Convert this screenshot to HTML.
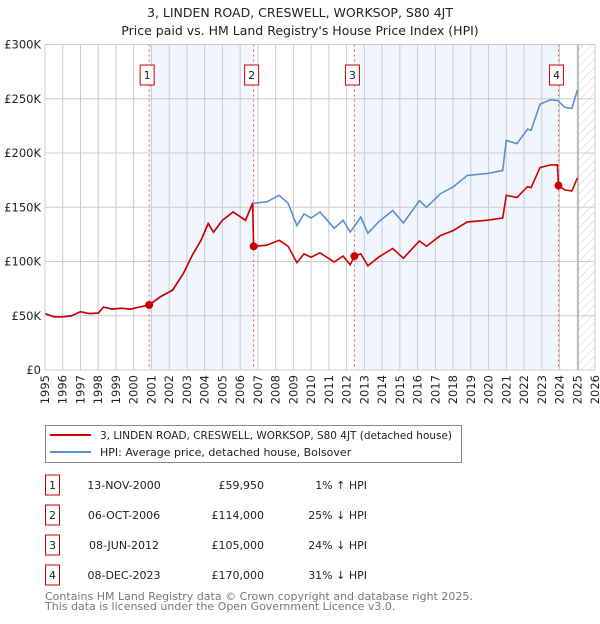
<!DOCTYPE html>
<html><head><meta charset="utf-8"><style>
body{margin:0;background:#fff;font-family:"DejaVu Sans","Liberation Sans",sans-serif;}
svg text{font-family:"DejaVu Sans","Liberation Sans",sans-serif;}
</style></head><body>
<svg id="chart" width="600" height="620" xmlns="http://www.w3.org/2000/svg">
<defs><pattern id="hatch" width="6" height="6" patternUnits="userSpaceOnUse" patternTransform="rotate(45)"><line x1="0" y1="0" x2="0" y2="6" stroke="#ccc" stroke-width="1"/></pattern></defs>
<text x="300" y="17" text-anchor="middle" font-size="12.5" fill="#222">3, LINDEN ROAD, CRESWELL, WORKSOP, S80 4JT</text>
<text x="300" y="35" text-anchor="middle" font-size="12.5" fill="#222">Price paid vs. HM Land Registry's House Price Index (HPI)</text>
<g id="plot"></g>
<g>
<rect x="45.5" y="425.5" width="416" height="37" fill="#fff" stroke="#888"/>
<line x1="50" y1="435" x2="91" y2="435" stroke="#cc0000" stroke-width="2"/>
<text x="100" y="439" font-size="11" fill="#222" textLength="352" lengthAdjust="spacingAndGlyphs">3, LINDEN ROAD, CRESWELL, WORKSOP, S80 4JT (detached house)</text>
<line x1="50" y1="452" x2="91" y2="452" stroke="#5b8fd0" stroke-width="2"/>
<text x="100" y="456" font-size="11" fill="#222">HPI: Average price, detached house, Bolsover</text>
</g>
<g id="table" font-size="11" fill="#222"></g>
<text x="45" y="600" font-size="11" fill="#777">Contains HM Land Registry data © Crown copyright and database right 2025.</text>
<text x="45" y="610" font-size="11" fill="#777">This data is licensed under the Open Government Licence v3.0.</text>
</svg>
<script>
const hpiDates=[1995.0,1995.5,1996.0,1996.5,1997.0,1997.5,1998.0,1998.3,1998.8,1999.3,1999.8,2000.3,2000.87,2001.5,2002.2,2002.8,2003.3,2003.8,2004.2,2004.5,2005.0,2005.6,2006.3,2006.7,2007.5,2008.2,2008.7,2009.2,2009.6,2010.0,2010.5,2011.3,2011.8,2012.2,2012.8,2013.2,2013.8,2014.6,2015.2,2016.1,2016.5,2017.3,2018.0,2018.8,2019.9,2020.8,2021.0,2021.6,2022.2,2022.4,2022.9,2023.5,2023.9,2024.3,2024.7,2025.0];
const hpiValues=[52,49,49,50,53.7,52,52.4,58,56,57,56,58,59.9,67.5,73.6,89,105.8,119.6,135,127,138,145.6,138,153.6,155,161,153.6,133,144,140,145.6,130.6,138,127,141,126,136.4,147,135.5,156,150,162.6,168.7,179.4,181,184,211.6,208.6,222,220.8,245,249,248.4,242,241,258];
const priceDates=[1995.0,1995.5,1996.0,1996.5,1997.0,1997.5,1998.0,1998.3,1998.8,1999.3,1999.8,2000.3,2000.87,2001.5,2002.2,2002.8,2003.3,2003.8,2004.2,2004.5,2005.0,2005.6,2006.3,2006.7,2006.76,2007.5,2008.2,2008.7,2009.2,2009.6,2010.0,2010.5,2011.3,2011.8,2012.2,2012.44,2012.8,2013.2,2013.8,2014.6,2015.2,2016.1,2016.5,2017.3,2018.0,2018.8,2019.9,2020.8,2021.0,2021.6,2022.2,2022.4,2022.9,2023.5,2023.88,2023.94,2024.3,2024.7,2025.0];
const priceValues=[52,49,49,50,53.7,52,52.4,58,56,57,56,58,59.95,67.5,73.6,89,105.8,119.6,135,127,138,145.6,138,153.6,114,115,119.5,114,99,107,104,108,99.5,105,97,105,107,96,104,112,103,119,114,124,128.5,136.5,138,140,161,159,169,168,186.5,189,189,170,166,165,177];
const saleDates=[2000.87,2006.76,2012.44,2023.94];
const salePrices=[59.95,114,105,170];
const saleLabels=["1","2","3","4"];
const saleDateText=["13-NOV-2000","06-OCT-2006","08-JUN-2012","08-DEC-2023"];
const salePriceText=["£59,950","£114,000","£105,000","£170,000"];
const saleHpiText=["1% ↑ HPI","25% ↓ HPI","24% ↓ HPI","31% ↓ HPI"];
const yTicks=[0,50,100,150,200,250,300];
const yTickLabels=["£0","£50K","£100K","£150K","£200K","£250K","£300K"];
const xTicks=[1995,1996,1997,1998,1999,2000,2001,2002,2003,2004,2005,2006,2007,2008,2009,2010,2011,2012,2013,2014,2015,2016,2017,2018,2019,2020,2021,2022,2023,2024,2025,2026];
const forecastStart=2025.05;

const X0=45,X1=595,Y0=370,Y1=44.5;
const x=d=>X0+(d-1995)/31*(X1-X0);
const y=v=>Y0-v/300*(Y0-Y1);
const NS="http://www.w3.org/2000/svg";
const plot=document.getElementById('plot');
function mk(tag,attrs,parent){const e=document.createElementNS(NS,tag);for(const k in attrs)e.setAttribute(k,attrs[k]);(parent||plot).appendChild(e);return e;}

const bg=mk('rect',{x:X0,y:Y1,width:X1-X0,height:Y0-Y1,fill:'#fff'});


for(let i=0;i<saleDates.length;i+=2){
  const r=mk('rect',{x:x(saleDates[i]),y:Y1,width:x(saleDates[i+1])-x(saleDates[i]),height:Y0-Y1,fill:'#eef3fc',opacity:0.8});
  
  
}
const fc=mk('rect',{x:x(forecastStart),y:Y1,width:X1-x(forecastStart),height:Y0-Y1,fill:'url(#hatch)'});


xTicks.forEach(t=>{
  const l=mk('line',{x1:x(t),x2:x(t),y1:Y1,y2:Y0,stroke:'#ccc','stroke-width':1});
  
  
  const tx=mk('text',{x:0,y:0,'text-anchor':'end','font-size':'11.5',fill:'#222',transform:'translate('+(x(t)+4).toFixed(1)+','+(Y0+5)+') rotate(-90)'});
  tx.textContent=t;
  
  
});
yTicks.forEach((t,i)=>{
  const l=mk('line',{x1:X0,x2:X1,y1:y(t),y2:y(t),stroke:'#ccc','stroke-width':1});
  
  
  const tx=mk('text',{x:X0-4,y:y(t)+4,'text-anchor':'end','font-size':'11.5',fill:'#222'});
  tx.textContent=yTickLabels[i];
  
  
});
const ed=mk('line',{x1:x(forecastStart),x2:x(forecastStart),y1:Y1,y2:Y0,stroke:'#999','stroke-width':1});


saleDates.forEach((d,i)=>{
  const l=mk('line',{x1:x(d),x2:x(d),y1:Y1,y2:Y0,stroke:'#e06060','stroke-width':1,'stroke-dasharray':'2,3'});
  
  
  const bx=x(d)-9;
  const b=mk('rect',{x:bx,y:65,width:14,height:20,fill:'#fff',stroke:'#cc0000','stroke-width':1});
  
  
  const t=mk('text',{x:bx+7,y:79,'text-anchor':'middle','font-size':'11',fill:'#222'});
  t.textContent=saleLabels[i];
  
  
});
const hp=mk('path',{d:hpiDates.map((d,i)=>(i?'L':'M')+x(d).toFixed(1)+','+y(hpiValues[i]).toFixed(1)).join(''),fill:'none',stroke:'#5b8fd0','stroke-width':1.6});


const pp=mk('path',{d:priceDates.map((d,i)=>(i?'L':'M')+x(d).toFixed(1)+','+y(priceValues[i]).toFixed(1)).join(''),fill:'none',stroke:'#cc0000','stroke-width':1.6});


saleDates.forEach((d,i)=>{
  const c=mk('circle',{cx:x(d),cy:y(salePrices[i]),r:4,fill:'#cc0000'});
  
  
});
const fr=mk('rect',{x:X0,y:Y1,width:X1-X0,height:Y0-Y1,fill:'none',stroke:'#ccc'});



const tbl=document.getElementById('table');


saleDates.forEach((d,i)=>{
  const cy=483+i*30;
  const b=mk('rect',{x:45.5,y:cy-8,width:14,height:20,fill:'#fff',stroke:'#cc0000'},tbl);
  
  
  const items=[[52.5,'middle',saleLabels[i],'row-number'],[124,'middle',saleDateText[i],'row-date'],[264,'end',salePriceText[i],'row-price'],[367,'end',saleHpiText[i],'row-hpi-change']];
  items.forEach(it=>{
    const t=mk('text',{x:it[0],y:cy+6,'text-anchor':it[1]},tbl);
    t.textContent=it[2];
    
    
  });
});
</script>
</body></html>
